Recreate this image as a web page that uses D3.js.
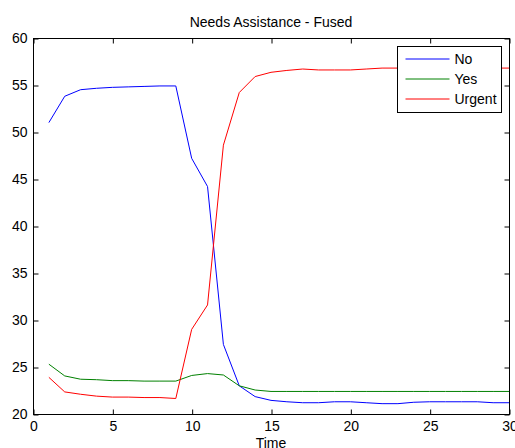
<!DOCTYPE html>
<html>
<head>
<meta charset="utf-8">
<script src="https://cdn.jsdelivr.net/npm/d3@7"></script>
<style>
    body { margin: 0; background: #fff; }
    svg text { font-family: "Liberation Sans", Arial, sans-serif; fill: #000; }
</style>
</head>
<body>
<div id="chart"></div>
<script>
// time steps and the three fused belief series
const time = [1, 2, 3, 4, 5, 6, 7, 8, 9, 10, 11, 12, 13, 14, 15,
              16, 17, 18, 19, 20, 21, 22, 23, 24, 25, 26, 27, 28, 29, 30];
const noVals = [51.0, 53.8, 54.5, 54.65, 54.75, 54.8, 54.85, 54.9, 54.9, 47.2,
                44.2, 27.4, 23.0, 21.85, 21.45, 21.3, 21.2, 21.2, 21.3, 21.3,
                21.2, 21.1, 21.1, 21.25, 21.3, 21.3, 21.3, 21.3, 21.2, 21.2];
const yesVals = [25.3, 24.05, 23.7, 23.65, 23.55, 23.55, 23.5, 23.5, 23.5, 24.1,
                 24.3, 24.15, 23.0, 22.55, 22.4, 22.4, 22.4, 22.4, 22.4, 22.4,
                 22.4, 22.4, 22.4, 22.4, 22.4, 22.4, 22.4, 22.4, 22.4, 22.4];
const urgentVals = [23.9, 22.35, 22.1, 21.9, 21.8, 21.8, 21.75, 21.75, 21.65, 29.0,
                    31.6, 48.6, 54.2, 55.9, 56.35, 56.55, 56.7, 56.6, 56.6, 56.6,
                    56.7, 56.8, 56.8, 56.8, 56.8, 56.8, 56.8, 56.8, 56.8, 56.8];
const seriesNames = ['No', 'Yes', 'Urgent'];
const seriesColors = ['#0000ff', '#008000', '#ff0000'];
const xTicks = [0, 5, 10, 15, 20, 25, 30];
const yTicks = [20, 25, 30, 35, 40, 45, 50, 55, 60];

const width = 515, height = 448;
const box = {left: 33, top: 38, right: 509, bottom: 414};

const svg = d3.select('#chart').append('svg')
    .attr('width', width)
    .attr('height', height);

const xScale = d3.scaleLinear().domain([0, 30]).range([box.left, box.right]);
const yScale = d3.scaleLinear().domain([20, 60]).range([box.bottom, box.top]);

// axes with inward ticks on all four sides (matlab style box)
function styleAxis(g) {
    g.select('.domain').remove();
    g.selectAll('.tick line').attr('stroke', '#000');
    g.selectAll('text').style('font-size', '14px');
}

svg.append('g')
    .attr('transform', `translate(0.5,${box.bottom + 0.5})`)
    .call(d3.axisBottom(xScale).tickValues(xTicks).tickSize(-5).tickPadding(7))
    .call(styleAxis);
svg.append('g')
    .attr('transform', `translate(0.5,${box.top + 0.5})`)
    .call(d3.axisTop(xScale).tickValues(xTicks).tickSize(-5).tickFormat(''))
    .call(styleAxis);
svg.append('g')
    .attr('transform', `translate(${box.left + 0.5},0.5)`)
    .call(d3.axisLeft(yScale).tickValues(yTicks).tickSize(-5).tickPadding(6))
    .call(styleAxis);
svg.append('g')
    .attr('transform', `translate(${box.right + 0.5},0.5)`)
    .call(d3.axisRight(yScale).tickValues(yTicks).tickSize(-5).tickFormat(''))
    .call(styleAxis);

svg.append('rect')
    .attr('x', box.left + 0.5)
    .attr('y', box.top + 0.5)
    .attr('width', box.right - box.left)
    .attr('height', box.bottom - box.top)
    .attr('fill', 'none')
    .attr('stroke', '#000');

// lines
const series = [noVals, yesVals, urgentVals];
const line = d3.line()
    .x((d, i) => xScale(time[i]))
    .y(d => yScale(d));

svg.selectAll('.series')
    .data(series)
    .enter()
    .append('path')
        .attr('class', 'series')
        .attr('d', d => line(d))
        .attr('fill', 'none')
        .attr('stroke', (d, i) => seriesColors[i])
        .attr('stroke-width', 1);

// title and axis label
svg.append('text')
    .attr('x', (box.left + box.right) / 2)
    .attr('y', 27)
    .attr('text-anchor', 'middle')
    .style('font-size', '14px')
    .text('Needs Assistance - Fused');

svg.append('text')
    .attr('x', (box.left + box.right) / 2)
    .attr('y', 448)
    .attr('text-anchor', 'middle')
    .style('font-size', '14px')
    .text('Time');

// legend
const legend = svg.append('g').attr('transform', 'translate(397.5,46.5)');
legend.append('rect')
    .attr('width', 104)
    .attr('height', 66)
    .attr('fill', '#fff')
    .attr('stroke', '#000');

const rows = legend.selectAll('.row')
    .data(seriesNames)
    .enter()
    .append('g')
        .attr('class', 'row')
        .attr('transform', (d, i) => `translate(0,${12.5 + i * 20})`);
rows.append('line')
    .attr('x1', 8)
    .attr('x2', 52)
    .attr('stroke', (d, i) => seriesColors[i]);
rows.append('text')
    .attr('x', 57)
    .attr('dy', '0.35em')
    .style('font-size', '14px')
    .text(d => d);
</script>
</body>
</html>
